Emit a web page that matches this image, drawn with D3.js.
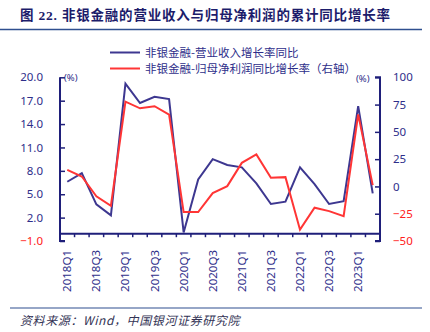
<!DOCTYPE html>
<html><head><meta charset="utf-8">
<script src="https://cdn.jsdelivr.net/npm/d3@7/dist/d3.min.js"></script>
<style>
body{margin:0;background:#fff;}
svg{display:block;}
</style></head>
<body>
<svg id="chart" width="430" height="332"></svg>
<script>
const categories = ["2018Q1","2018Q2","2018Q3","2018Q4","2019Q1","2019Q2","2019Q3","2019Q4",
  "2020Q1","2020Q2","2020Q3","2020Q4","2021Q1","2021Q2","2021Q3","2021Q4",
  "2022Q1","2022Q2","2022Q3","2022Q4","2023Q1","2023Q2"];
const tickLabels = ["2018Q1","2018Q3","2019Q1","2019Q3","2020Q1","2020Q3","2021Q1","2021Q3","2022Q1","2022Q3","2023Q1"];
const revenueGrowth = [6.6,7.7,3.7,2.3,19.2,16.7,17.5,17.2,0.1,6.9,9.5,8.75,8.45,6.4,3.75,4.05,8.45,6.3,3.75,4.1,16.3,5.1];
const profitGrowth = [15.2,9.1,-9.1,-17.7,77.7,71.6,73.5,65.9,-23.5,-23.5,-6.1,0.3,21.6,29.3,7.9,8.5,-39.6,-19.5,-22.6,-27.2,66.0,1.2];
const leftTicks = [20,17,14,11,8,5,2,-1];
const rightTicks = [100,75,50,25,0,-25,-50];
const seriesNames = ["非银金融-营业收入增长率同比","非银金融-归母净利润同比增长率（右轴）"];
const title = "图 22. 非银金融的营业收入与归母净利润的累计同比增长率";
const source = "资料来源：Wind，中国银河证券研究院";

const svg = d3.select("#chart");
const axisColor = "#1F1F7A", labelColor = "#2E2E8A", blueColor = "#3D3790", redColor = "#FF3535";
const L = 60, R = 380, T = 77.3, B = 241;

const x = d3.scaleBand().domain(categories).range([L, R]);
const yL = d3.scaleLinear().domain([-1, 20]).range([B, T]);
const yR = d3.scaleLinear().domain([-50, 100]).range([B, T]);

// title
svg.append("text").attr("x", 20).attr("y", 20)
  .attr("font-family", "'Liberation Serif','Noto Sans CJK SC',serif")
  .attr("font-weight", "bold").attr("font-size", 13.5).attr("letter-spacing", 0.8)
  .attr("fill", "#1C1C6B").text(title);
svg.append("line").attr("x1", 0).attr("x2", 422).attr("y1", 29.5).attr("y2", 29.5)
  .attr("stroke", "#2F4F8F").attr("stroke-width", 1.6);

// bottom line & source
svg.append("line").attr("x1", 10).attr("x2", 422).attr("y1", 308).attr("y2", 308)
  .attr("stroke", "#2F4F8F").attr("stroke-width", 1.2);
svg.append("text").attr("x", 20).attr("y", 325)
  .attr("font-family", "'Noto Sans CJK SC',sans-serif").attr("font-style", "italic")
  .attr("font-size", 12).attr("letter-spacing", 0.6).attr("fill", "#333355").text(source);

// left axis
const gL = svg.append("g").attr("transform", `translate(${L},0)`)
  .call(d3.axisLeft(yL).tickValues(leftTicks).tickSize(-5).tickPadding(17).tickFormat(d3.format(".1f")));
// right axis
const gR = svg.append("g").attr("transform", `translate(${R},0)`)
  .call(d3.axisRight(yR).tickValues(rightTicks).tickSize(-5).tickPadding(13));
// x axis at left 0
const gX = svg.append("g").attr("transform", `translate(0,${yL(0)})`)
  .call(d3.axisBottom(x).tickSize(0).tickFormat(""));
gX.selectAll(".tick").remove();
const bounds = categories.map(c => x(c)).concat([R]);
gX.selectAll("line.qt").data(bounds).enter().append("line").attr("class","qt")
  .attr("x1", d => d).attr("x2", d => d).attr("y1", 0).attr("y2", 4)
  .attr("stroke", axisColor).attr("stroke-width", 1.5);

[gL, gR, gX].forEach(g => {
  g.select(".domain").attr("stroke", axisColor).attr("stroke-width", 2);
  g.selectAll(".tick line").attr("stroke", axisColor).attr("stroke-width", 1.5);
  g.selectAll(".tick text").attr("font-family", "'Noto Sans','Liberation Sans',sans-serif")
    .attr("font-size", 11.5).attr("fill", d => d < 0 ? "#FF2020" : labelColor);
});
gL.select(".domain").attr("d", `M-0,${T}H0V${B}H5`).attr("fill","none");
gR.select(".domain").attr("d", `M-5,${T}H0V${B}H-5`).attr("fill","none");
gR.selectAll(".tick text").attr("text-anchor", "start");

// x labels
svg.append("g").selectAll("text").data(tickLabels).enter().append("text")
  .attr("transform", d => `translate(${x(d) + x.bandwidth()/2 + 4},250) rotate(-90)`)
  .attr("text-anchor", "end")
  .attr("font-family", "'Noto Sans','Liberation Sans',sans-serif")
  .attr("font-size", 11.5).attr("fill", labelColor).text(d => d);

// unit labels
svg.append("text").attr("x", 64).attr("y", 81).attr("font-family","'Noto Sans',sans-serif")
  .attr("font-size", 9.5).attr("fill", labelColor).text("(%)");
svg.append("text").attr("x", 356).attr("y", 82).attr("font-family","'Noto Sans',sans-serif")
  .attr("font-size", 9.5).attr("fill", labelColor).text("(%)");

// lines
const cx = d => x(d) + x.bandwidth()/2;
svg.append("path").datum(categories.map((c,i)=>[c, revenueGrowth[i]]))
  .attr("fill","none").attr("stroke", blueColor).attr("stroke-width", 2)
  .attr("d", d3.line().x(d => cx(d[0])).y(d => yL(d[1])));
svg.append("path").datum(categories.map((c,i)=>[c, profitGrowth[i]]))
  .attr("fill","none").attr("stroke", redColor).attr("stroke-width", 2)
  .attr("d", d3.line().x(d => cx(d[0])).y(d => yR(d[1])));

// legend
const leg = svg.append("g");
[[blueColor, 52.5], [redColor, 68.5]].forEach((c, i) => {
  leg.append("line").attr("x1", 110).attr("x2", 140).attr("y1", c[1]).attr("y2", c[1])
    .attr("stroke", c[0]).attr("stroke-width", 2);
  leg.append("text").attr("x", 145).attr("y", c[1] + 4)
    .attr("font-family", "'Noto Sans CJK SC',sans-serif").attr("font-size", 11.5)
    .attr("fill", labelColor).text(seriesNames[i]);
});
</script>
</body></html>
